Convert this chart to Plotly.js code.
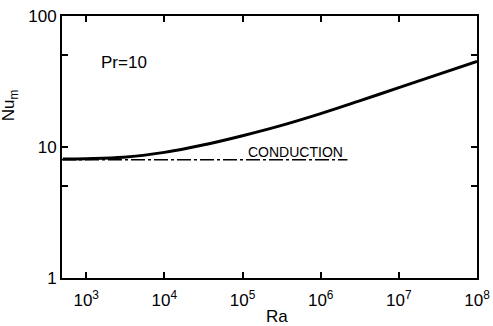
<!DOCTYPE html>
<html>
<head>
<meta charset="utf-8">
<script src="https://cdn.plot.ly/plotly-3.0.1.min.js"></script>
<style>html,body{margin:0;padding:0;background:#fff;}#chart{width:493px;height:326px;}</style>
</head>
<body>
<div id="chart"></div>
<script>
// Mean Nusselt number vs Rayleigh number, Pr = 10
var ra = [500, 1e3, 3e3, 1e4, 3e4, 1e5, 3e5, 1e6, 3e6, 1e7, 3e7, 1e8];
var nu = [8.1, 8.15, 8.35, 9.1, 10.3, 12.2, 14.5, 18.0, 22.3, 28.4, 35.4, 45.1];
var condRa = [490, 2.2e6];
var condNu = [8.0, 8.0];
var xTickVals = [1e3, 1e4, 1e5, 1e6, 1e7, 1e8];
var xTickText = ['10<sup>3</sup>', '10<sup>4</sup>', '10<sup>5</sup>', '10<sup>6</sup>', '10<sup>7</sup>', '10<sup>8</sup>'];
var yTickVals = [1, 10, 100];
var yTickText = ['1', '10', '100'];
var yMinorVals = [5, 50];

var traces = [
  {x: condRa, y: condNu, mode: 'lines', line: {color: '#000', width: 1.6, dash: '14px,3px,3px,3px'}, hoverinfo: 'skip'},
  {x: ra, y: nu, mode: 'lines', line: {color: '#000', width: 3, shape: 'spline', smoothing: 1}, hoverinfo: 'skip'}
];

var fam = 'Liberation Sans, Arial, sans-serif';
var layout = {
  width: 493, height: 326,
  margin: {l: 62, r: 16, t: 16, b: 48},
  paper_bgcolor: '#fff', plot_bgcolor: '#fff',
  showlegend: false,
  font: {family: fam, color: '#000'},
  xaxis: {
    type: 'log', range: [Math.log10(490), 8],
    tickvals: xTickVals, ticktext: xTickText,
    ticks: 'inside', ticklen: 6, tickwidth: 2, tickcolor: '#000',
    showline: true, linewidth: 2, linecolor: '#000', mirror: 'ticks',
    showgrid: false, zeroline: false,
    ticklabelstandoff: 6,
    tickfont: {family: fam, size: 17, color: '#000'}
  },
  yaxis: {
    type: 'log', range: [0, 2],
    tickvals: yTickVals, ticktext: yTickText,
    ticks: 'inside', ticklen: 6, tickwidth: 2, tickcolor: '#000',
    minor: {tickvals: yMinorVals, ticks: 'inside', ticklen: 6, tickwidth: 2, tickcolor: '#000', showgrid: false},
    showline: true, linewidth: 2, linecolor: '#000', mirror: 'ticks',
    showgrid: false, zeroline: false,
    tickfont: {family: fam, size: 17, color: '#000'}
  },
  annotations: [
    {xref: 'paper', yref: 'paper', x: 0.149, y: 0.824, xanchor: 'center', yanchor: 'middle',
     text: 'Pr=10', showarrow: false, font: {family: fam, size: 17, color: '#000'}},
    {x: Math.log10(4.8e5), y: Math.log10(8.0), xref: 'x', yref: 'y', xanchor: 'center', yanchor: 'bottom', yshift: -2,
     text: 'CONDUCTION', showarrow: false, font: {family: fam, size: 14, color: '#000'}},
    {xref: 'paper', yref: 'paper', x: -0.125, y: 0.66, xanchor: 'center', yanchor: 'middle',
     text: 'Nu<sub>m</sub>', textangle: -90, showarrow: false, font: {family: fam, size: 17, color: '#000'}},
    {xref: 'paper', yref: 'paper', x: 0.518, y: -0.148, xanchor: 'center', yanchor: 'middle',
     text: 'Ra', showarrow: false, font: {family: fam, size: 17, color: '#000'}}
  ]
};

Plotly.newPlot('chart', traces, layout, {staticPlot: true, displayModeBar: false});
</script>
</body>
</html>
